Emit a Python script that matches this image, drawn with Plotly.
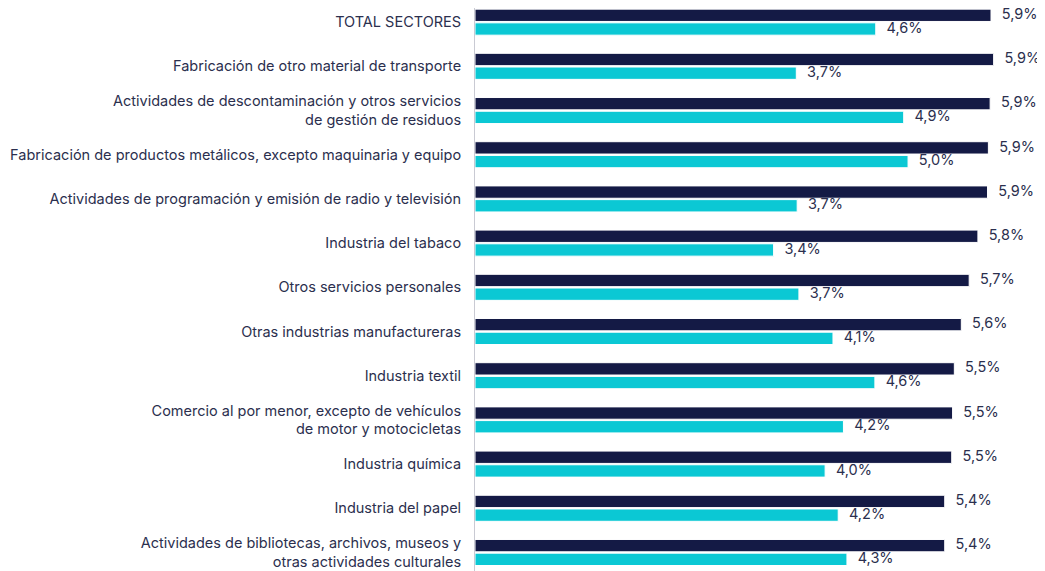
import plotly.graph_objects as go

# Sectores (de arriba abajo)
sectores = [
    "TOTAL SECTORES",
    "Fabricación de otro material de transporte",
    "Actividades de descontaminación y otros servicios<br>de gestión de residuos",
    "Fabricación de productos metálicos, excepto maquinaria y equipo",
    "Actividades de programación y emisión de radio y televisión",
    "Industria del tabaco",
    "Otros servicios personales",
    "Otras industrias manufactureras",
    "Industria textil",
    "Comercio al por menor, excepto de vehículos<br>de motor y motocicletas",
    "Industria química",
    "Industria del papel",
    "Actividades de bibliotecas, archivos, museos y<br>otras actividades culturales",
]

# Serie oscura y serie cian (%)
serie_a = [5.91, 5.94, 5.90, 5.88, 5.87, 5.76, 5.66, 5.57, 5.49, 5.47, 5.46, 5.38, 5.38]
serie_b = [4.59, 3.68, 4.91, 4.96, 3.69, 3.42, 3.71, 4.10, 4.58, 4.22, 4.01, 4.16, 4.26]


def etiqueta(v):
    return "  \u2009" + f"{v:.1f}".replace(".", ",") + "%"


fuente = "Inter, Roboto, sans-serif"
tam = 14.5
texto = "#2b2f4e"

fig = go.Figure()
for serie, color in ((serie_a, "#141a45"), (serie_b, "#0bc8d4")):
    fig.add_trace(go.Bar(
        y=sectores, x=serie, orientation="h",
        marker=dict(color=color, line=dict(color="white", width=1)),
    ))
# etiquetas de valor (trazas de texto agrupadas igual que las barras)
for serie in (serie_a, serie_b):
    fig.add_trace(go.Scatter(
        y=sectores, x=serie, orientation="h", mode="text",
        text=[etiqueta(v) for v in serie], textposition="middle right",
        textfont=dict(family=fuente, size=tam, color=texto),
        cliponaxis=False, hoverinfo="skip",
    ))

# la página añade 8 px de margen al cuerpo: se compensa aquí
fig.update_layout(
    width=1045, height=571,
    margin=dict(l=467, r=0, t=0, b=0, autoexpand=False),
    barmode="group", bargap=0.38, bargroupgap=0.1,
    scattermode="group", scattergap=0.38,
    showlegend=False,
    plot_bgcolor="white", paper_bgcolor="white",
    font=dict(family=fuente, size=tam, color=texto),
)
fig.update_xaxes(range=[0, 6.62], showgrid=False, zeroline=False,
                 showticklabels=False, showline=False, automargin=False)
fig.update_yaxes(range=[12.6, -0.32], showgrid=False, zeroline=False,
                 showline=True, linecolor="#c9cad3", linewidth=1,
                 ticks="", ticklabelstandoff=10, automargin=False,
                 tickfont=dict(family=fuente, size=tam, color=texto))

fig.write_html("out.html")
